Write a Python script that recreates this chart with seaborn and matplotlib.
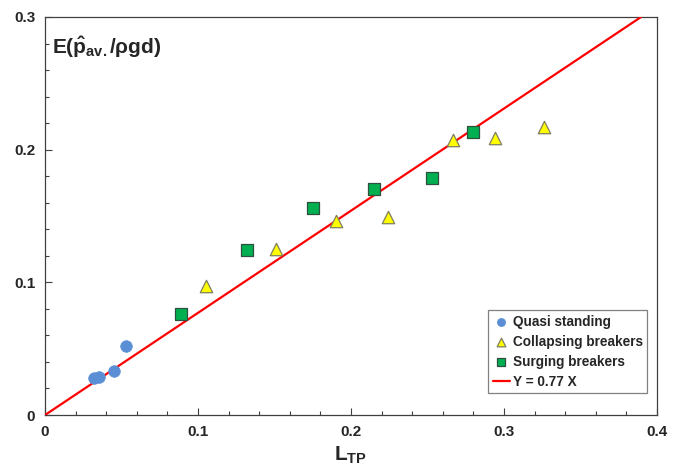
import numpy as np
import pandas as pd
import matplotlib
matplotlib.use("Agg")
import matplotlib.pyplot as plt
from matplotlib.ticker import MultipleLocator, FuncFormatter
import seaborn as sns

# Measured points
quasi_x = [0.032, 0.035, 0.045, 0.053]
quasi_y = [0.028, 0.029, 0.033, 0.052]
collapsing_x = [0.105, 0.151, 0.190, 0.224, 0.267, 0.294, 0.326]
collapsing_y = [0.097, 0.125, 0.146, 0.149, 0.207, 0.209, 0.217]
surging_x = [0.089, 0.132, 0.175, 0.215, 0.253, 0.280]
surging_y = [0.076, 0.124, 0.156, 0.170, 0.179, 0.213]
fit_slope = 0.77
fit_x = [0.0, 0.3 / fit_slope]

sns.set_theme(style="white")
plt.rcParams["font.family"] = ["Liberation Sans", "DejaVu Sans"]
plt.rcParams["mathtext.fontset"] = "custom"
plt.rcParams["mathtext.rm"] = "Liberation Sans"
plt.rcParams["mathtext.bf"] = "Liberation Sans:bold"
plt.rcParams["mathtext.it"] = "Liberation Sans:italic"

fig = plt.figure(figsize=(6.86, 4.69), dpi=100)
ax = fig.add_axes([0.0656, 0.1151, 0.8921, 0.8487])

df_q = pd.DataFrame({"x": quasi_x, "y": quasi_y})
df_c = pd.DataFrame({"x": collapsing_x, "y": collapsing_y})
df_s = pd.DataFrame({"x": surging_x, "y": surging_y})
df_f = pd.DataFrame({"x": fit_x, "y": [fit_slope * v for v in fit_x]})

sns.scatterplot(data=df_q, x="x", y="y", ax=ax, marker="o", s=70,
                color="#5B8FD5", edgecolor="#5B8FD5", linewidth=0.5,
                label="Quasi standing", zorder=4)
sns.scatterplot(data=df_c, x="x", y="y", ax=ax, marker="^", s=80,
                color="#FFFF00", edgecolor="#7F7F60", linewidth=0.9,
                label="Collapsing breakers", zorder=4)
sns.scatterplot(data=df_s, x="x", y="y", ax=ax, marker="s", s=68,
                color="#00B050", edgecolor="#2F4F3F", linewidth=0.9,
                label="Surging breakers", zorder=4)
sns.lineplot(data=df_f, x="x", y="y", ax=ax, color="#FF0000", linewidth=1.6,
             label="Y = 0.77 X", zorder=3)

ax.set_xlim(0, 0.4)
ax.set_ylim(0, 0.3)
ax.xaxis.set_major_locator(MultipleLocator(0.1))
ax.xaxis.set_minor_locator(MultipleLocator(0.02))
ax.yaxis.set_major_locator(MultipleLocator(0.1))
ax.yaxis.set_minor_locator(MultipleLocator(0.02))
ax.xaxis.set_major_formatter(FuncFormatter(lambda v, p: f"{v:g}"))
ax.yaxis.set_major_formatter(FuncFormatter(lambda v, p: f"{v:g}"))
ax.tick_params(which="both", direction="in", bottom=True, left=True,
               top=False, right=False, color="#404040", width=0.8)
ax.tick_params(which="major", length=5, labelsize=11, pad=7)
ax.tick_params(which="minor", length=3)
for lab in ax.get_xticklabels() + ax.get_yticklabels():
    lab.set_fontweight("bold")
for sp in ax.spines.values():
    sp.set_color("#404040")
    sp.set_linewidth(0.9)

ax.set_xlabel(r"$\mathbf{L_{TP}}$", fontsize=15, labelpad=4)
ax.set_ylabel("")
ax.text(0.012, 0.955, r"$\mathbf{E(\hat{p}_{av.}/\rho gd)}$", transform=ax.transAxes,
        fontsize=15, ha="left", va="top")

leg = ax.legend(loc="lower right", bbox_to_anchor=(0.9837, 0.0553), borderaxespad=0,
                frameon=True, fancybox=False, edgecolor="#808080", framealpha=1,
                prop={"weight": "bold", "size": 9.8}, handlelength=1.3,
                handletextpad=0.2, labelspacing=0.45, borderpad=0.3,
                markerscale=0.7)
leg.get_frame().set_linewidth(0.9)

fig.savefig("out.png", dpi=100)
